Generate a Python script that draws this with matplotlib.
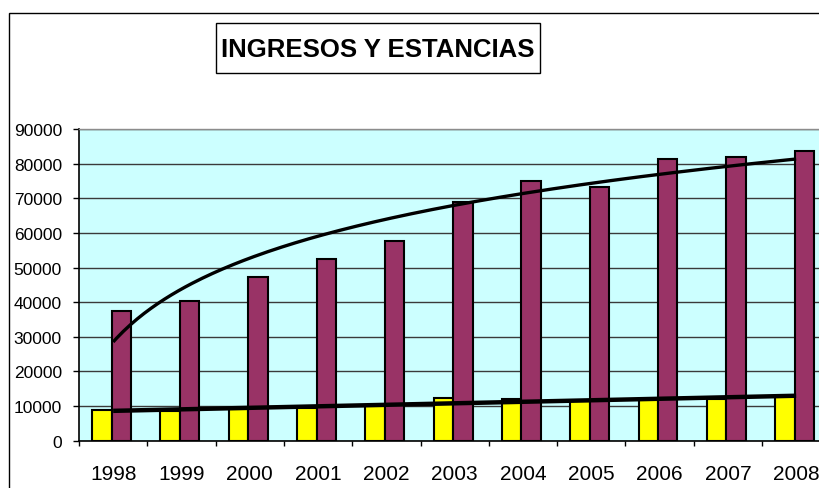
import numpy as np
import matplotlib.pyplot as plt
from matplotlib.patches import Rectangle

plt.rcParams['font.family'] = ['Liberation Sans', 'DejaVu Sans']

years = ['1998', '1999', '2000', '2001', '2002', '2003',
         '2004', '2005', '2006', '2007', '2008']
ingresos = [8800, 8600, 9200, 9500, 10100, 12200,
            12100, 11500, 12000, 12000, 12800]
estancias = [37500, 40400, 47300, 52400, 57700, 68800,
             75000, 73200, 81300, 82000, 83600]
title = 'INGRESOS Y ESTANCIAS'

W, H = 819, 489
fig = plt.figure(figsize=(W / 100, H / 100), dpi=100)

# plot area (runs past the right edge of the picture, as in the original)
cat_w = 68.3
ax = fig.add_axes([79 / W, 1 - 441.7 / H, cat_w * len(years) / W, 311.7 / H])
ax.set_facecolor('#CCFFFF')

x = np.arange(len(years))
bw = 0.285
ax.bar(x - 0.165, ingresos, bw, color='#FFFF00', edgecolor='black',
       linewidth=1.5, zorder=3)
ax.bar(x + 0.12, estancias, bw, color='#993366', edgecolor='black',
       linewidth=1.5, zorder=3)

# trend lines: linear for ingresos, logarithmic for estancias
n = np.arange(1, len(years) + 1)
lin = np.polyfit(n, ingresos, 1)
ax.plot(x, np.polyval(lin, n), color='black', lw=3.2, zorder=4,
        solid_capstyle='butt')
lg = np.polyfit(np.log(n), estancias, 1)
xs = np.linspace(1, len(years), 200)
ax.plot(xs - 1, np.polyval(lg, np.log(xs)), color='black', lw=2.4, zorder=4,
        solid_capstyle='butt')

ax.set_xlim(-0.5, len(years) - 0.5)
ax.set_ylim(0, 90000)
ax.set_yticks(np.arange(0, 90001, 10000))
ax.yaxis.grid(True, color='#3a3a3a', lw=1)
ax.set_axisbelow(True)

ax.set_xticks(x)
ax.set_xticklabels(years)
ax.set_xticks(np.arange(-0.5, len(years), 1), minor=True)
ax.tick_params(axis='x', which='major', length=0, pad=16.8, labelsize=15)
ax.tick_params(axis='x', which='minor', length=3.6, width=1, direction='out')
ax.tick_params(axis='y', length=4.3, width=1, pad=8, labelsize=12.5)

for s in ['left', 'bottom']:
    ax.spines[s].set_color('black')
    ax.spines[s].set_linewidth(1.2)
ax.spines['top'].set_color('#8c8c8c')
ax.spines['top'].set_linewidth(1)
ax.spines['right'].set_visible(False)

# outer chart frame
fig.add_artist(Rectangle((9 / W, -0.5), 2, 1 - 14 / H + 0.5,
                         transform=fig.transFigure, fill=False,
                         edgecolor='black', lw=1, clip_on=False))

# title box
fig.add_artist(Rectangle((216 / W, 1 - 74 / H), 324 / W, 50 / H,
                         transform=fig.transFigure, facecolor='white',
                         edgecolor='black', lw=1))
fig.text(378 / W, 1 - 57 / H, title, ha='center', va='baseline',
         fontsize=18.5, fontweight='bold')

fig.savefig('out.png', dpi=100)
